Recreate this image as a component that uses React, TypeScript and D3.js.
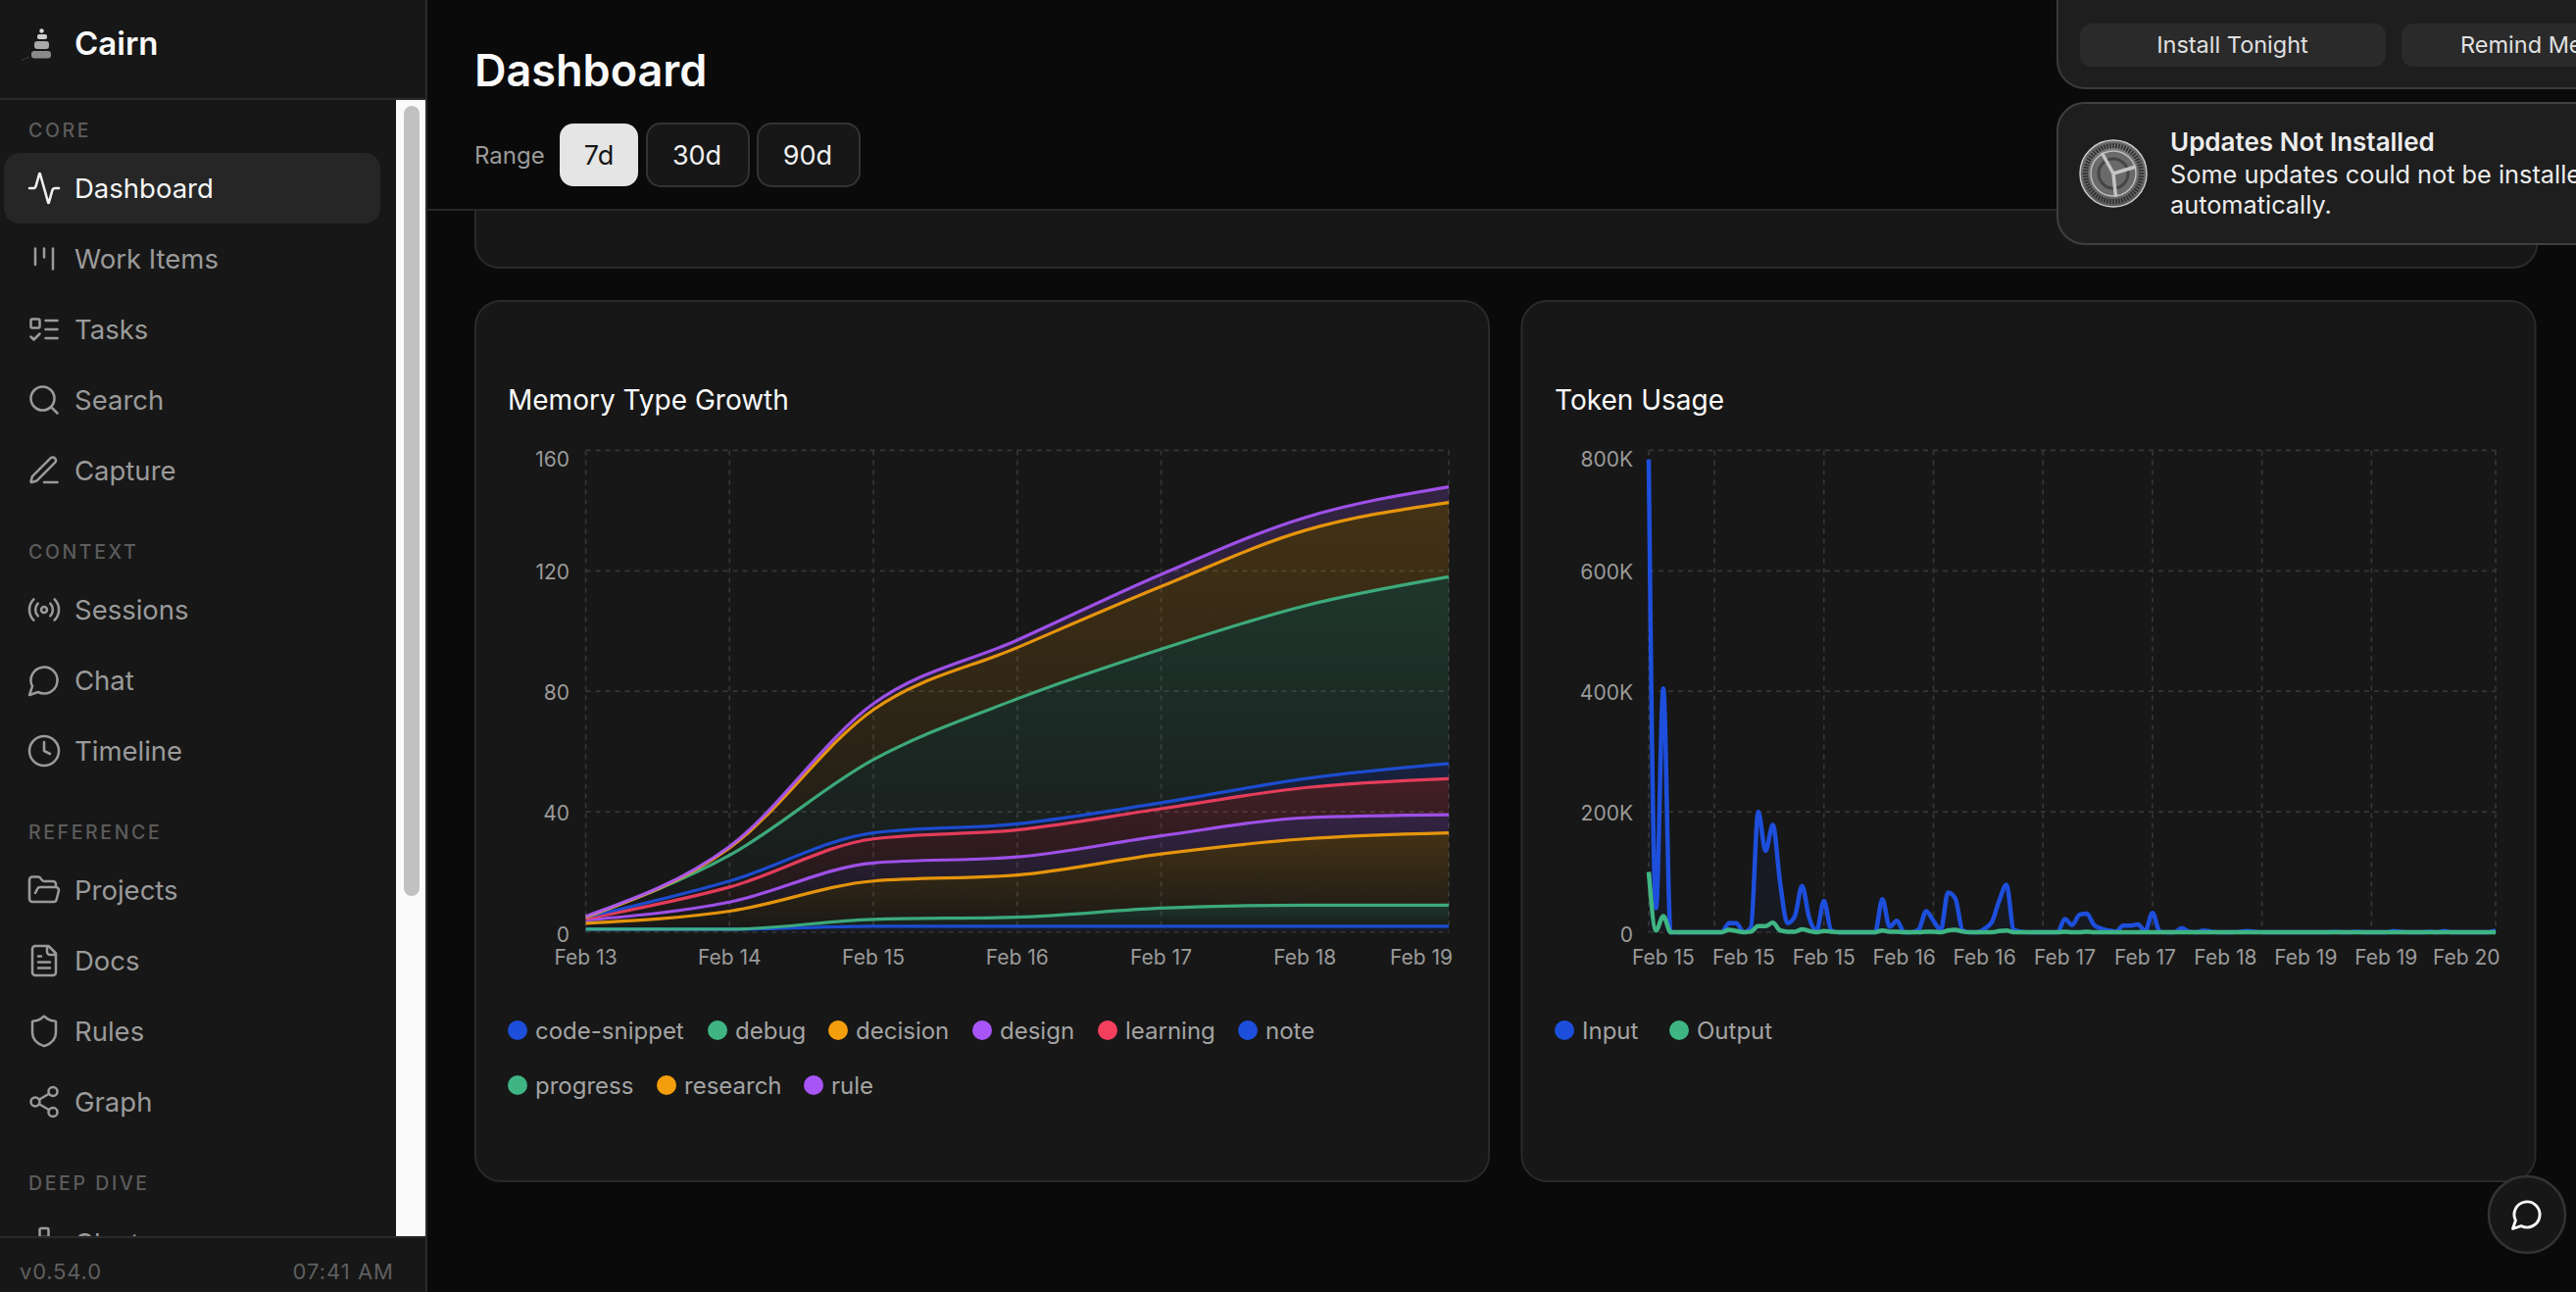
import React from "react";
import * as d3 from "d3";

// ---------- data ----------
const memoryDays = ["Feb 13", "Feb 14", "Feb 15", "Feb 16", "Feb 17", "Feb 18", "Feb 19"];
const memoryKeys = ["code-snippet", "debug", "decision", "design", "learning", "note", "progress", "research", "rule"];
const codeSnippet = [1, 1, 2, 2, 2, 2, 2];
const debug = [0, 0, 2.3, 3, 6, 7, 7];
const decision = [2, 6, 12.7, 14, 18, 22, 24];
const design = [1, 3, 6, 6, 6, 7, 6];
const learning = [0.5, 5, 8, 9, 9, 10, 12];
const note = [0.5, 2, 2, 2, 2, 3, 5];
const progress = [0, 8.6, 24.3, 41.5, 51, 57.4, 62];
const research = [0, 2.4, 16.6, 17, 20.8, 25, 24.7];
const rule = [0.3, 0.5, 2, 2.5, 4, 4.3, 5.2];
const memorySeries = [codeSnippet, debug, decision, design, learning, note, progress, research, rule];
const memoryColors = ["#1d4fdc", "#3fb583", "#f59e0b", "#a855f7", "#f43f5e", "#1d4fdc", "#3fb583", "#f59e0b", "#a855f7"];
const memoryYTicks = [0, 40, 80, 120, 160];
const memoryGridDays = [0, 1, 2, 3, 4, 6];

const tokenInput = [785, 40, 405, 0, 0, 0, 0, 0, 0, 0, 0, 15, 15, 0, 8, 200, 135, 178, 82, 15, 26, 77, 23, 3, 52, 3, 0, 0, 0, 0, 0, 0, 55, 9, 19, 0, 0, 5, 35, 19, 4, 66, 56, 3, 0, 0, 6, 17, 52, 79, 4, 1, 0, 0, 0, 0, 0, 22, 12, 29, 31, 12, 6, 3, 1, 11, 11, 13, 2, 32, 1, 0, 0, 7, 1, 0, 3, 1, 0, 0, 0, 1, 2, 1, 0, 0, 0, 0, 0, 0, 0, 0, 0, 0, 1, 0, 0, 1, 0, 0, 0, 0, 2, 1, 0, 0, 0, 1, 0, 2, 0, 0, 0, 0, 0, 0, 3];
const tokenOutput = [100, 3, 27, 0, 0, 0, 0, 0, 0, 0, 0, 4, 2, 0, 1, 10, 10, 16, 3, 1, 1, 5, 2, 0, 2, 1, 0, 0, 0, 0, 0, 0, 3, 1, 1, 0, 0, 0, 1, 1, 0, 3, 4, 1, 0, 0, 0, 0, 2, 3, 0, 0, 0, 0, 0, 0, 0, 1, 0, 0, 1, 0, 0, 0, 0, 0, 0, 0, 0, 0, 0, 0, 0, 0, 0, 0, 0, 0, 0, 0, 0, 0, 0, 0, 0, 0, 0, 0, 0, 0, 0, 0, 0, 0, 0, 0, 0, 0, 0, 0, 0, 0, 0, 0, 0, 0, 0, 0, 0, 0, 0, 0, 0, 0, 0, 0, 0];
const tokenLabels = ["Feb 15", "Feb 15", "Feb 15", "Feb 16", "Feb 16", "Feb 17", "Feb 17", "Feb 18", "Feb 19", "Feb 19", "Feb 20"];
const tokenLabelIdx = [2, 13, 24, 35, 46, 57, 68, 79, 90, 101, 112];
const tokenGridIdx = [0, 9, 24, 39, 54, 69, 84, 99, 116];
const tokenYTicks = [0, 200, 400, 600, 800];

const memoryLegend = [
  { t: "code-snippet", c: 0, cx: 528, x: 546, row: 0 },
  { t: "debug", c: 1, cx: 732, x: 750, row: 0 },
  { t: "decision", c: 2, cx: 855, x: 873, row: 0 },
  { t: "design", c: 3, cx: 1002, x: 1020, row: 0 },
  { t: "learning", c: 4, cx: 1130, x: 1148, row: 0 },
  { t: "note", c: 5, cx: 1273, x: 1291, row: 0 },
  { t: "progress", c: 6, cx: 528, x: 546, row: 1 },
  { t: "research", c: 7, cx: 680, x: 698, row: 1 },
  { t: "rule", c: 8, cx: 830, x: 848, row: 1 },
];

const navItems = [
  { t: "Dashboard", y: 192, i: "activity" },
  { t: "Work Items", y: 264, i: "kanban" },
  { t: "Tasks", y: 336, i: "todo" },
  { t: "Search", y: 408, i: "search" },
  { t: "Capture", y: 480, i: "pen" },
  { t: "Sessions", y: 622, i: "radio" },
  { t: "Chat", y: 694, i: "chat" },
  { t: "Timeline", y: 766, i: "clock" },
  { t: "Projects", y: 908, i: "folder" },
  { t: "Docs", y: 980, i: "file" },
  { t: "Rules", y: 1052, i: "shield" },
  { t: "Graph", y: 1124, i: "share" },
  { t: "Clusters", y: 1268, i: "network" },
];
const navSections = [
  { t: "CORE", y: 133 },
  { t: "CONTEXT", y: 563 },
  { t: "REFERENCE", y: 849 },
  { t: "DEEP DIVE", y: 1207 },
];

const FONT = "Inter, sans-serif";
const gridColor = "#363636";
const axisColor = "#9a9a9a";

function Icon({ name }: { name: string }) {
  switch (name) {
    case "activity":
      return <path d="M22 12h-2.48a2 2 0 0 0-1.93 1.46l-2.35 8.36a.25.25 0 0 1-.48 0L9.24 2.18a.25.25 0 0 0-.48 0l-2.35 8.36A2 2 0 0 1 4.49 12H2" />;
    case "kanban":
      return <path d="M6 5v11M12 5v6M18 5v14" />;
    case "todo":
      return (<><rect x="3" y="5" width="6" height="6" rx="1" /><path d="m3 17 2 2 4-4M13 6h8M13 12h8M13 18h8" /></>);
    case "search":
      return (<><circle cx="11" cy="11" r="8" /><path d="m21 21-4.3-4.3" /></>);
    case "pen":
      return <path d="M12 20h9M16.376 3.622a1 1 0 0 1 3.002 3.002L7.368 18.635a2 2 0 0 1-.855.506l-2.872.838a.5.5 0 0 1-.62-.62l.838-2.872a2 2 0 0 1 .506-.854z" />;
    case "radio":
      return (<><path d="M4.9 19.1C1 15.2 1 8.8 4.9 4.9M7.8 16.2c-2.3-2.3-2.3-6.1 0-8.5M16.2 7.8c2.3 2.3 2.3 6.1 0 8.5M19.1 4.9C23 8.8 23 15.1 19.1 19" /><circle cx="12" cy="12" r="2" /></>);
    case "chat":
      return <path d="M7.9 20A9 9 0 1 0 4 16.1L2 22Z" />;
    case "clock":
      return (<><circle cx="12" cy="12" r="10" /><path d="M12 6v6l4 2" /></>);
    case "folder":
      return <path d="m6 14 1.5-2.9A2 2 0 0 1 9.24 10H20a2 2 0 0 1 1.94 2.5l-1.54 6a2 2 0 0 1-1.95 1.5H4a2 2 0 0 1-2-2V5a2 2 0 0 1 2-2h3.9a2 2 0 0 1 1.69.9l.81 1.2a2 2 0 0 0 1.67.9H18a2 2 0 0 1 2 2v2" />;
    case "file":
      return <path d="M15 2H6a2 2 0 0 0-2 2v16a2 2 0 0 0 2 2h12a2 2 0 0 0 2-2V7ZM14 2v4a2 2 0 0 0 2 2h4M10 9H8M16 13H8M16 17H8" />;
    case "shield":
      return <path d="M20 13c0 5-3.5 7.5-7.66 8.95a1 1 0 0 1-.67-.01C7.5 20.5 4 18 4 13V6a1 1 0 0 1 1-1c2 0 4.5-1.2 6.24-2.72a1.17 1.17 0 0 1 1.52 0C14.51 3.81 17 5 19 5a1 1 0 0 1 1 1z" />;
    case "share":
      return (<><circle cx="18" cy="5" r="3" /><circle cx="6" cy="12" r="3" /><circle cx="18" cy="19" r="3" /><path d="M8.59 13.51l6.83 3.98M15.41 6.51l-6.82 3.98" /></>);
    case "network":
      return (<><rect x="9" y="2" width="6" height="6" rx="1" /><rect x="16" y="16" width="6" height="6" rx="1" /><rect x="2" y="16" width="6" height="6" rx="1" /><path d="M5 16v-3a1 1 0 0 1 1-1h12a1 1 0 0 1 1 1v3M12 12V8" /></>);
  }
  return null;
}

function Grid({ xs, ys, x0, x1, y0, y1 }: { xs: number[]; ys: number[]; x0: number; x1: number; y0: number; y1: number }) {
  return (
    <g stroke={gridColor} strokeWidth={1.7} strokeDasharray="5 5" fill="none">
      {ys.map((y, i) => <line key={"h" + i} x1={x0} x2={x1} y1={y} y2={y} />)}
      {xs.map((x, i) => <line key={"v" + i} x1={x} x2={x} y1={y0} y2={y1} />)}
    </g>
  );
}

function MemoryChart() {
  const x = d3.scaleLinear().domain([0, 6]).range([597.6, 1478]);
  const y = d3.scaleLinear().domain([0, 160]).range([951, 459.4]);
  const table = memoryDays.map((_, i) => {
    const row: Record<string, number> = {};
    memoryKeys.forEach((k, s) => { row[k] = memorySeries[s][i]; });
    return row;
  });
  const stacked = d3.stack<Record<string, number>>().keys(memoryKeys)(table);
  const area = d3.area<any>().x((_, i) => x(i)).y0((d) => y(d[0])).y1((d) => y(d[1])).curve(d3.curveMonotoneX);
  const line = d3.line<any>().x((_, i) => x(i)).y((d) => y(d[1])).curve(d3.curveMonotoneX);
  return (
    <g>
      <defs>
        {memoryKeys.map((k, i) => (
          <linearGradient key={k} id={"mg" + i} x1="0" y1="0" x2="0" y2="1">
            <stop offset="0%" stopColor={memoryColors[i]} stopOpacity={0.2} />
            <stop offset="100%" stopColor={memoryColors[i]} stopOpacity={0.01} />
          </linearGradient>
        ))}
      </defs>
      <Grid xs={memoryGridDays.map((d) => x(d))} ys={memoryYTicks.map((t) => y(t))} x0={x(0)} x1={x(6)} y0={y(160)} y1={y(0)} />
      {stacked.map((s, i) => <path key={"a" + i} d={area(s as any) as string} fill={`url(#mg${i})`} stroke="none" />)}
      {stacked.map((s, i) => <path key={"l" + i} d={line(s as any) as string} fill="none" stroke={memoryColors[i]} strokeWidth={3.2} strokeOpacity={0.92} />)}
      {memoryYTicks.map((t) => (
        <text key={t} x={581} y={y(t) + (t === 160 ? 9 : t === 0 ? 2 : 1.2)} textAnchor="end" dominantBaseline="central" fontFamily={FONT} fontSize={21} fill={axisColor}>{t}</text>
      ))}
      {memoryDays.map((d, i) => (
        <text key={d} x={i === 6 ? 1450 : x(i)} y={976.5} textAnchor="middle" dominantBaseline="central" fontFamily={FONT} fontSize={21} fill={axisColor}>{d}</text>
      ))}
    </g>
  );
}

function TokenChart() {
  const x = d3.scaleLinear().domain([0, 116]).range([1682, 2546]);
  const y = d3.scaleLinear().domain([0, 800000]).range([951, 459.4]);
  const line = d3.line<number>().x((_, i) => x(i)).y((d) => y(d * 1000)).curve(d3.curveMonotoneX);
  const area = d3.area<number>().x((_, i) => x(i)).y0(y(0)).y1((d) => y(d * 1000)).curve(d3.curveMonotoneX);
  return (
    <g>
      <defs>
        <linearGradient id="tg0" x1="0" y1="0" x2="0" y2="1">
          <stop offset="0%" stopColor="#1d4fdc" stopOpacity={0.12} />
          <stop offset="100%" stopColor="#1d4fdc" stopOpacity={0.05} />
        </linearGradient>
      </defs>
      <Grid xs={tokenGridIdx.map((d) => x(d))} ys={tokenYTicks.map((t) => y(t * 1000))} x0={x(0)} x1={x(116)} y0={y(800000)} y1={y(0)} />
      <path d={area(tokenInput) as string} fill="url(#tg0)" />
      <path d={line(tokenInput) as string} fill="none" stroke="#1d4fdc" strokeWidth={4.5} />
      <path d={line(tokenOutput) as string} fill="none" stroke="#3fb583" strokeWidth={4.5} />
      {tokenYTicks.map((t) => (
        <text key={t} x={1666} y={y(t * 1000) + (t === 800 ? 9 : t === 0 ? 2 : 1.2)} textAnchor="end" dominantBaseline="central" fontFamily={FONT} fontSize={21} fill={axisColor}>{t === 0 ? "0" : t + "K"}</text>
      ))}
      {tokenLabels.map((d, i) => (
        <text key={i} x={x(tokenLabelIdx[i])} y={976.5} textAnchor="middle" dominantBaseline="central" fontFamily={FONT} fontSize={21} fill={axisColor}>{d}</text>
      ))}
    </g>
  );
}

function Gear({ cx, cy }: { cx: number; cy: number }) {
  const teeth = d3.range(60).map((i) => (i / 60) * 2 * Math.PI);
  return (
    <g>
      <defs>
        <radialGradient id="gearG" cx="50%" cy="40%" r="65%">
          <stop offset="0%" stopColor="#8f8f8f" />
          <stop offset="100%" stopColor="#555" />
        </radialGradient>
      </defs>
      <circle cx={cx} cy={cy} r={34} fill="url(#gearG)" stroke="#c9c9c9" strokeWidth={1.5} />
      {teeth.map((a, i) => (
        <line key={i} x1={cx + 26 * Math.cos(a)} y1={cy + 26 * Math.sin(a)} x2={cx + 31 * Math.cos(a)} y2={cy + 31 * Math.sin(a)} stroke="#2c2c2c" strokeWidth={1.6} />
      ))}
      <circle cx={cx} cy={cy} r={23} fill="#6a6a6a" stroke="#bdbdbd" strokeWidth={1.5} />
      <circle cx={cx} cy={cy} r={15} fill="none" stroke="#454545" strokeWidth={3} />
      {[-119, -17, 84].map((d) => (
        <line key={d} x1={cx} y1={cy} x2={cx + 24 * Math.cos((d * Math.PI) / 180)} y2={cy + 24 * Math.sin((d * Math.PI) / 180)} stroke="#c4c4c4" strokeWidth={3.5} />
      ))}
    </g>
  );
}

export default function App() {
  return (
    <svg width={2628} height={1318} viewBox="0 0 2628 1318" style={{ position: "fixed", left: 0, top: 0, display: "block" }} fontFamily={FONT}>
      <defs>
        <clipPath id="navClip"><rect x={0} y={102} width={404} height={1160} /></clipPath>
      </defs>
      <rect width={2628} height={1318} fill="#0a0a0a" />

      {/* cut-off card behind the header */}
      <rect x={485} y={60} width={2103} height={213} rx={24} fill="#171717" stroke="#2a2a2a" strokeWidth={2} />
      <rect x={436} y={0} width={2192} height={214} fill="#0a0a0a" />
      <line x1={436} x2={2628} y1={214} y2={214} stroke="#262626" strokeWidth={2} />

      {/* header */}
      <text x={484} y={71} dominantBaseline="central" fontSize={45} fontWeight={600} fill="#fafafa">Dashboard</text>
      <text x={484} y={158} dominantBaseline="central" fontSize={24} fill="#9a9a9a">Range</text>
      <rect x={571} y={126} width={80} height={64} rx={14} fill="#e5e5e5" />
      <text x={611} y={158} textAnchor="middle" dominantBaseline="central" fontSize={27} fill="#171717">7d</text>
      <rect x={660} y={126} width={104} height={64} rx={14} fill="#171717" stroke="#333" strokeWidth={2} />
      <text x={711} y={158} textAnchor="middle" dominantBaseline="central" fontSize={27} fill="#f0f0f0">30d</text>
      <rect x={773} y={126} width={104} height={64} rx={14} fill="#171717" stroke="#333" strokeWidth={2} />
      <text x={824} y={158} textAnchor="middle" dominantBaseline="central" fontSize={27} fill="#f0f0f0">90d</text>

      {/* sidebar */}
      <rect x={0} y={0} width={434} height={1318} fill="#171717" />
      <line x1={435} x2={435} y1={0} y2={1318} stroke="#2a2a2a" strokeWidth={2} />
      <line x1={0} x2={434} y1={101} y2={101} stroke="#2a2a2a" strokeWidth={2} />
      <circle cx={42.5} cy={31.5} r={2.2} fill="#d8d8d8" />
      <rect x={38} y={35} width={10} height={5} rx={2} fill="#cfcfcf" />
      <rect x={35} y={42} width={15} height={8} rx={3} fill="#a8a8a8" />
      <rect x={32} y={52} width={20} height={7.5} rx={3} fill="#8a8a8a" />
      <path d="M23 61l3-1 1-1 1 0 2-1" fill="none" stroke="#777" strokeWidth={1} strokeDasharray="1 1.5" />
      <text x={76} y={44} dominantBaseline="central" fontSize={33} fontWeight={600} fill="#fafafa">Cairn</text>

      <rect x={4} y={156} width={384} height={72} rx={16} fill="#262626" />
      <g clipPath="url(#navClip)">
        {navSections.map((s) => (
          <text key={s.t} x={29} y={s.y} dominantBaseline="central" fontSize={19.5} letterSpacing={2.6} fontWeight={500} fill="#5c5c5c">{s.t}</text>
        ))}
        {navItems.map((n) => {
          const active = n.t === "Dashboard";
          return (
            <g key={n.t}>
              <g transform={`translate(27,${n.y - 18}) scale(1.5)`} fill="none" stroke={active ? "#f0f0f0" : "#9a9a9a"} strokeWidth={1.7} strokeLinecap="round" strokeLinejoin="round">
                <Icon name={n.i} />
              </g>
              <text x={76} y={n.y} dominantBaseline="central" fontSize={27.5} fill={active ? "#f5f5f5" : "#9a9a9a"}>{n.t}</text>
            </g>
          );
        })}
      </g>
      <rect x={404} y={102} width={30} height={1160} fill="#fafafa" />
      <rect x={412} y={108} width={16} height={806} rx={8} fill="#c1c1c1" />
      <rect x={0} y={1262} width={434} height={56} fill="#171717" />
      <line x1={0} x2={434} y1={1262} y2={1262} stroke="#2a2a2a" strokeWidth={2} />
      <text x={20} y={1297} dominantBaseline="central" fontSize={22} letterSpacing={0.8} fill="#5f5f5f">v0.54.0</text>
      <text x={402} y={1297} textAnchor="end" dominantBaseline="central" fontSize={22} letterSpacing={1} fill="#5f5f5f">07:41 AM</text>

      {/* chart cards */}
      <rect x={485} y={307} width={1034} height={898} rx={26} fill="#171717" stroke="#2a2a2a" strokeWidth={2} />
      <rect x={1552.5} y={307} width={1034} height={898} rx={26} fill="#171717" stroke="#2a2a2a" strokeWidth={2} />
      <text x={518} y={407.5} dominantBaseline="central" fontSize={28} fontWeight={400} fill="#fafafa">Memory Type Growth</text>
      <text x={1586} y={407.5} dominantBaseline="central" fontSize={28} fontWeight={400} fill="#fafafa">Token Usage</text>
      <MemoryChart />
      <TokenChart />

      {/* legends */}
      {memoryLegend.map((l) => {
        const yy = l.row === 0 ? 1051 : 1107;
        return (
          <g key={l.t}>
            <circle cx={l.cx} cy={yy} r={10} fill={memoryColors[l.c]} />
            <text x={l.x} y={yy} dominantBaseline="central" fontSize={24} fill="#a3a3a3">{l.t}</text>
          </g>
        );
      })}
      <circle cx={1596} cy={1051} r={10} fill="#1d4fdc" />
      <text x={1614} y={1051} dominantBaseline="central" fontSize={24} fill="#a3a3a3">Input</text>
      <circle cx={1713} cy={1051} r={10} fill="#3fb583" />
      <text x={1731} y={1051} dominantBaseline="central" fontSize={24} fill="#a3a3a3">Output</text>

      {/* chat button */}
      <circle cx={2578} cy={1239} r={39} fill="#171717" stroke="#333" strokeWidth={2.5} />
      <g transform="translate(2560.6,1221.6) scale(1.45)" fill="none" stroke="#fafafa" strokeWidth={2} strokeLinecap="round" strokeLinejoin="round">
        <Icon name="chat" />
      </g>

      {/* notifications */}
      <rect x={2099} y={-60} width={600} height={150} rx={28} fill="#1e1e1e" stroke="#3a3a3a" strokeWidth={2} />
      <rect x={2122} y={24} width={312} height={44} rx={12} fill="#2a2a2a" />
      <text x={2277.5} y={45.5} textAnchor="middle" dominantBaseline="central" fontSize={23.5} fill="#e0e0e0">Install Tonight</text>
      <rect x={2450} y={24} width={250} height={44} rx={12} fill="#2a2a2a" />
      <text x={2510} y={45.5} dominantBaseline="central" fontSize={23.5} fill="#e0e0e0">Remind Me</text>
      <rect x={2099} y={105} width={600} height={144} rx={28} fill="#1e1e1e" stroke="#3f3f3f" strokeWidth={2} />
      <Gear cx={2156} cy={177} />
      <text x={2214} y={144} dominantBaseline="central" fontSize={26} fontWeight={600} fill="#ededed">Updates Not Installed</text>
      <text x={2214} y={177} dominantBaseline="central" fontSize={25.3} fill="#ededed">Some updates could not be installed</text>
      <text x={2214} y={208} dominantBaseline="central" fontSize={25.3} fill="#ededed">automatically.</text>
    </svg>
  );
}
